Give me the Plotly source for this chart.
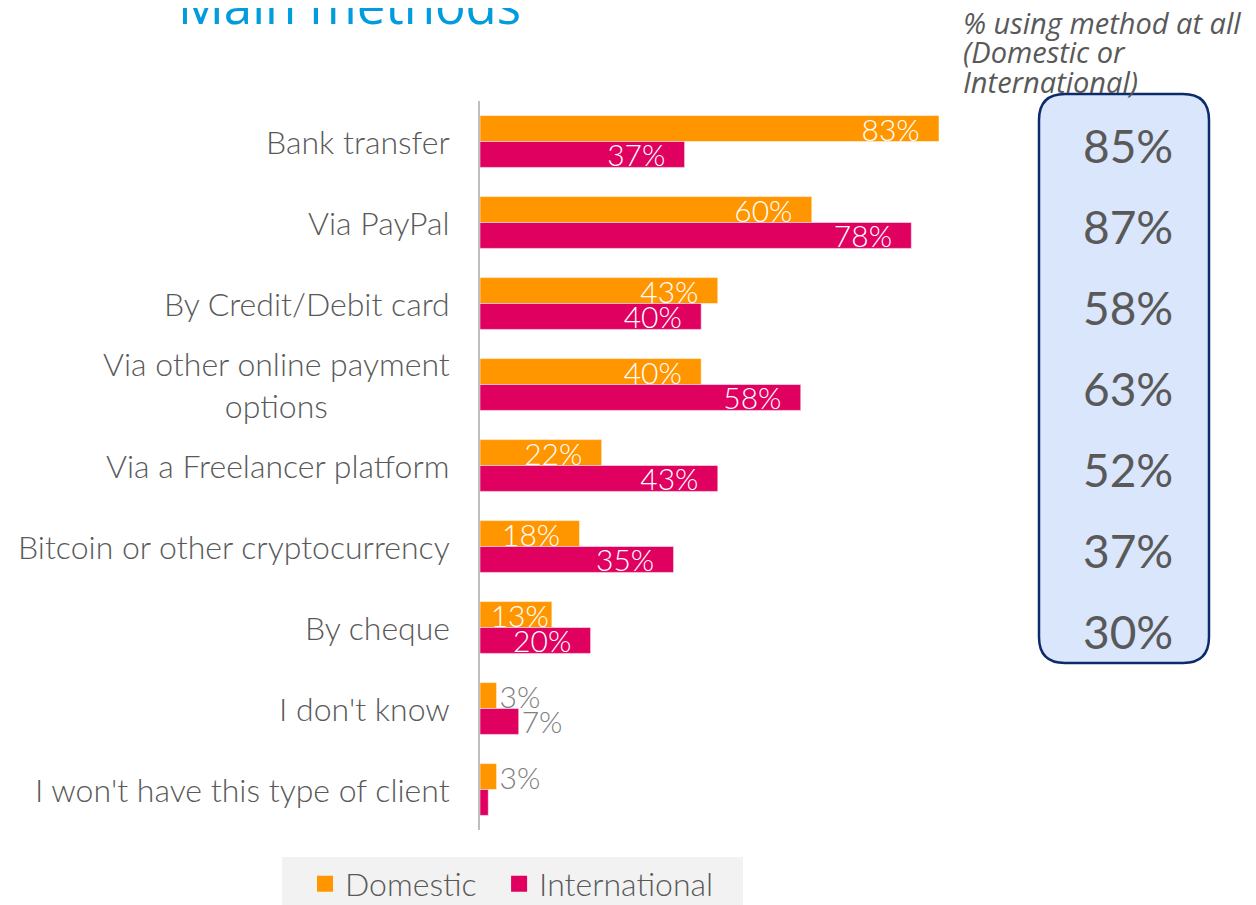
import plotly.graph_objects as go

categories = ["Bank transfer", "Via PayPal", "By Credit/Debit card",
              "Via other online payment<br>options", "Via a Freelancer platform",
              "Bitcoin or other cryptocurrency", "By cheque", "I don't know",
              "I won't have this type of client"]
domestic = [83, 60, 43, 40, 22, 18, 13, 3, 3]
international = [37, 78, 40, 58, 43, 35, 20, 7, 1.5]
domestic_labels = ["83%", "60%", "43%", "40%", "22%", "18%", "13%", "3%", "3%"]
international_labels = ["37%", "78%", "40%", "58%", "43%", "35%", "20%", "7%", ""]
at_all = ["85%", "87%", "58%", "63%", "52%", "37%", "30%"]
legend_names = ["Domestic", "International"]

W, H = 1256, 905
OFF = 8  # page body margin
# plot area in screen pixels
SX0, SX1, SY0, SY1 = 480, 1000, 101, 830
L = SX0 - OFF
T = SY0 - OFF
R = W - (SX1 - OFF)
B = H - (SY1 - OFF)
PW, PH = SX1 - SX0, SY1 - SY0
PX_PER_PCT = 5.53

def px(sx):
    return (sx - SX0) / PW

def py(sy):
    return (SY1 - sy) / PH

ORANGE = "#ff9600"
MAGENTA = "#df0060"
GREY = "#595959"
NB = "\u00a0\u00a0"

def pos(vals):
    return ["outside" if v < 10 else "inside" for v in vals]

def tcol(vals):
    return ["#808080" if v < 10 else "white" for v in vals]

def lbl(labels, vals):
    return [t + NB if v >= 15 and t else t for t, v in zip(labels, vals)]

fig = go.Figure()
fig.add_trace(go.Bar(
    name=legend_names[0], y=categories, x=domestic, orientation="h", showlegend=False,
    marker=dict(color=ORANGE, line=dict(color="rgba(255,255,255,0.5)", width=1)),
    text=lbl(domestic_labels, domestic), textposition=pos(domestic), insidetextanchor="end",
    textfont=dict(color=tcol(domestic), size=30, family="Lato", weight=300),
    constraintext="none", cliponaxis=False, hoverinfo="skip"))
fig.add_trace(go.Bar(
    name=legend_names[1], y=categories, x=international, orientation="h", showlegend=False,
    marker=dict(color=MAGENTA, line=dict(color="rgba(255,255,255,0.5)", width=1)),
    text=lbl(international_labels, international), textposition=pos(international),
    insidetextanchor="end",
    textfont=dict(color=tcol(international), size=30, family="Lato", weight=300),
    constraintext="none", cliponaxis=False, hoverinfo="skip"))
# legend entries with larger square symbols
for name, col, pad in [(legend_names[0], ORANGE, "\u00a0\u00a0"), (legend_names[1], MAGENTA, "")]:
    fig.add_trace(go.Scatter(x=[None], y=[None], mode="markers", name=name + pad,
                             marker=dict(symbol="square", size=21, color=col),
                             hoverinfo="skip"))

annotations = []
for c in categories:
    annotations.append(dict(
        x=0, xref="paper", y=c, yref="y", xanchor="right", yanchor="middle",
        xshift=-28, text=c, showarrow=False, align="center",
        font=dict(family="Lato", size=32, color=GREY, weight=300)))

for i, v in enumerate(at_all):
    annotations.append(dict(
        x=px(1128), xref="paper", y=categories[i], yref="y", yshift=-4,
        xanchor="center", yanchor="middle", text=v, showarrow=False,
        font=dict(family="Lato", size=46, color=GREY)))

annotations.append(dict(
    x=px(176), xref="paper", y=py(41), yref="paper", xanchor="left", yanchor="bottom",
    text="Main methods", showarrow=False,
    font=dict(family="Open Sans", size=51, color="#009cde")))

note_lines = ["% using method at all", "(Domestic or", "International)"]
for k, line in enumerate(note_lines):
    annotations.append(dict(
        x=px(961), xref="paper", y=py(22 + 30 * k), yref="paper",
        xanchor="left", yanchor="middle", text=f"<i>{line}</i>", showarrow=False,
        font=dict(family="Open Sans", size=29, color=GREY)))

# rounded rectangle panel
x0, x1, y0, y1, r = 1039, 1209, 94, 663, 26
def P(x, y):
    return f"{px(x):.5f},{py(y):.5f}"
path = (f"M {P(x0 + r, y0)} L {P(x1 - r, y0)} Q {P(x1, y0)} {P(x1, y0 + r)} "
        f"L {P(x1, y1 - r)} Q {P(x1, y1)} {P(x1 - r, y1)} "
        f"L {P(x0 + r, y1)} Q {P(x0, y1)} {P(x0, y1 - r)} "
        f"L {P(x0, y0 + r)} Q {P(x0, y0)} {P(x0 + r, y0)} Z")

fig.update_layout(
    width=W, height=H,
    margin=dict(l=L, r=R, t=T, b=B, autoexpand=False),
    paper_bgcolor="white", plot_bgcolor="white",
    barmode="group", bargap=0.36, bargroupgap=0,
    showlegend=True,
    legend=dict(orientation="h", x=px(305), xanchor="left", y=py(884), yanchor="middle",
                bgcolor="rgba(0,0,0,0)", font=dict(family="Lato", size=32, color=GREY, weight=300)),
    xaxis=dict(range=[0, PW / PX_PER_PCT], visible=False, fixedrange=True),
    yaxis=dict(range=[8.5, -0.5], showticklabels=False, showline=True,
               linecolor="#bfbfbf", linewidth=1.5, ticks="", showgrid=False,
               zeroline=False, fixedrange=True),
    shapes=[
        dict(type="path", xref="paper", yref="paper", path=path,
             fillcolor="#dae6fb", line=dict(color="#0d2a6a", width=2.5), layer="below"),
        dict(type="rect", xref="paper", yref="paper", x0=px(282), x1=px(743),
             y0=py(915), y1=py(857), fillcolor="#f2f2f2", line=dict(width=0), layer="below"),
    ],
    annotations=annotations,
)

fig.write_html("out.html")
